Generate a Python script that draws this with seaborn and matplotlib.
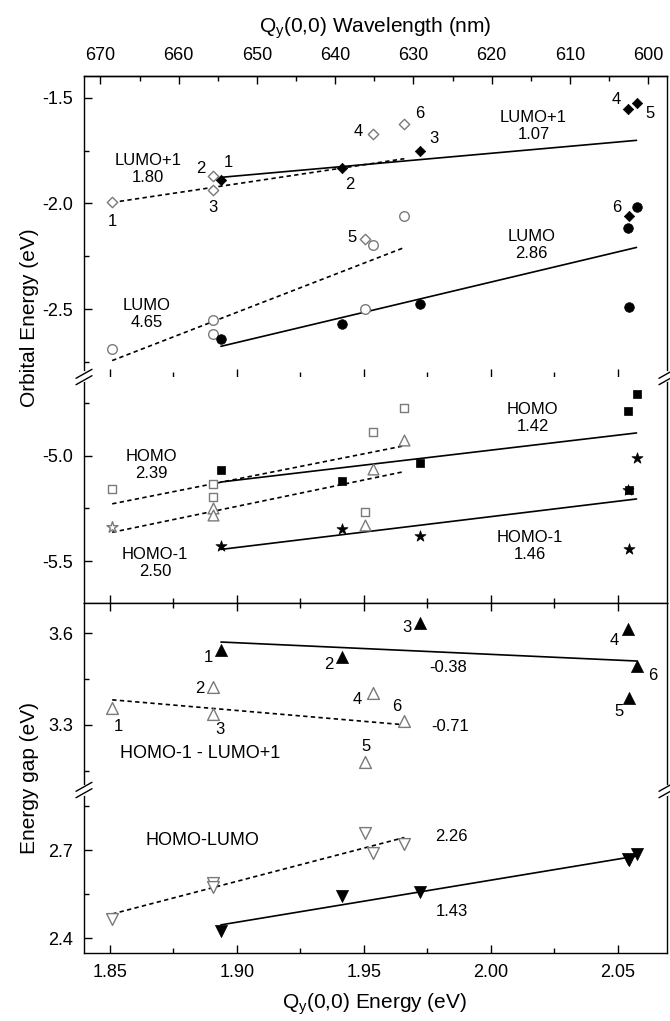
import numpy as np
import matplotlib
matplotlib.use("Agg")
import matplotlib.pyplot as plt
from matplotlib.lines import Line2D
from matplotlib.ticker import MultipleLocator, FormatStrFormatter
import seaborn as sns

# Qy(0,0) transition energies (eV) of the two compound sets
qy_open = [1.8509, 1.8907, 1.8907, 1.9534, 1.9504, 1.9659]
qy_filled = [1.8937, 1.9412, 1.9720, 2.0538, 2.0573, 2.0542]

# frontier orbital energies (eV)
lumo1_open = [-1.992, -1.869, -1.934, -1.672, -2.169, -1.622]
lumo_open = [-2.689, -2.552, -2.618, -2.197, -2.500, -2.059]
homo_open = [-5.159, -5.136, -5.198, -4.887, -5.266, -4.777]
homo1_open = [-5.340, -5.250, -5.280, -5.064, -5.329, -4.925]

lumo1_filled = [-1.890, -1.830, -1.751, -1.551, -1.524, -2.060]
lumo_filled = [-2.639, -2.568, -2.478, -2.118, -2.019, -2.489]
homo_filled = [-5.069, -5.119, -5.037, -4.788, -4.709, -5.163]
homo1_filled = [-5.428, -5.349, -5.381, -5.163, -5.010, -5.444]

# energy gaps (eV)
gap_h1l1_open = [3.355, 3.423, 3.336, 3.406, 3.177, 3.314]
gap_h1l1_filled = [3.545, 3.523, 3.635, 3.613, 3.493, 3.387]
gap_hl_open = [2.465, 2.587, 2.573, 2.690, 2.757, 2.720]
gap_hl_filled = [2.425, 2.544, 2.558, 2.668, 2.686, 2.665]

# slopes of the linear fits (eV per eV)
slope_lumo1 = (1.80, 1.07)
slope_lumo = (4.65, 2.86)
slope_homo = (2.39, 1.42)
slope_homo1 = (2.50, 1.46)
slope_gap_h1l1 = (-0.71, -0.38)
slope_gap_hl = (2.26, 1.43)

# compound numbers written next to the points
tags_orbital_open = ["1", "2", "3", "4", "5", "6"]
tags_orbital_filled = ["1", "2", "3", "4", "5", "6"]
tags_gap_open = ["1", "2", "3", "4", "5", "6"]
tags_gap_filled = ["1", "2", "3", "4", "6", "5"]
homo1_open_markers = ["*", "^", "^", "^", "^", "^"]

# ---------------------------------------------------------------- style
sns.set_theme(style="ticks")
plt.rcParams.update({
    "font.family": ["Liberation Sans", "DejaVu Sans"],
    "mathtext.default": "regular",
    "axes.unicode_minus": False,
    "axes.linewidth": 1.0,
    "axes.edgecolor": "black",
    "xtick.color": "black",
    "ytick.color": "black",
    "text.color": "black",
    "axes.labelcolor": "black",
})

GRAY = "#7a7a7a"
DOT = (0, (2.6, 2.0))
W, H = 670, 1021
XMIN, XMAX = 1.8398, 2.0693

fig = plt.figure(figsize=(W / 100, H / 100), dpi=100)


def frame(top, bottom, left=84, right=667):
    return [left / W, 1 - bottom / H, (right - left) / W, (bottom - top) / H]


ax1 = fig.add_axes(frame(76, 377))
ax2 = fig.add_axes(frame(377, 603))
ax3 = fig.add_axes(frame(603, 790))
ax4 = fig.add_axes(frame(790, 953))

ax1.set_ylim(-2.821, -1.397)
ax2.set_ylim(-5.698, -4.628)
ax3.set_ylim(3.087, 3.699)
ax4.set_ylim(2.350, 2.904)


def style_axis(ax, top, bottom, ystep, xticks_top, xticks_bottom, xlabels=False):
    ax.set_xlim(XMIN, XMAX)
    ax.set_facecolor("white")
    ax.grid(False)
    ax.spines["top"].set_visible(top)
    ax.spines["bottom"].set_visible(bottom)
    ax.spines["right"].set_visible(True)
    ax.tick_params(which="both", direction="in", colors="black", labelsize=13)
    ax.tick_params(which="major", length=6, width=1)
    ax.tick_params(which="minor", length=3.5, width=1)
    ax.tick_params(axis="y", which="both", left=True, right=False, pad=8)
    ax.tick_params(axis="x", which="both", top=xticks_top, bottom=xticks_bottom,
                   labeltop=False, labelbottom=xlabels, pad=8)
    ax.xaxis.set_major_locator(MultipleLocator(0.05))
    ax.xaxis.set_minor_locator(MultipleLocator(0.025))
    ax.xaxis.set_major_formatter(FormatStrFormatter("%.2f"))
    ax.yaxis.set_major_locator(MultipleLocator(ystep))
    ax.yaxis.set_minor_locator(MultipleLocator(ystep / 2))
    ax.yaxis.set_major_formatter(FormatStrFormatter("%.1f"))


style_axis(ax1, True, False, 0.5, False, False)
style_axis(ax2, False, True, 0.5, False, True)
style_axis(ax3, True, False, 0.3, True, False)
style_axis(ax4, False, True, 0.3, False, True, xlabels=True)

# wavelength scale along the top
axt = ax1.twiny()
axt.set_xlim(672.1, 597.6)
for s in ("bottom", "left", "right"):
    axt.spines[s].set_visible(False)
axt.xaxis.set_major_locator(MultipleLocator(10))
axt.xaxis.set_minor_locator(MultipleLocator(5))
axt.xaxis.set_major_formatter(FormatStrFormatter("%d"))
axt.tick_params(axis="x", which="both", direction="in", top=True, bottom=False,
                labeltop=True, labelbottom=False, labelsize=13, pad=9, colors="black")
axt.tick_params(axis="x", which="major", length=6, width=1)
axt.tick_params(axis="x", which="minor", length=3.5, width=1)


# ---------------------------------------------------------------- marks
def points(ax, x, y, marker, filled, size):
    if filled:
        sns.scatterplot(x=x, y=y, ax=ax, marker=marker, s=size, color="black",
                        edgecolor="black", linewidth=0.5, zorder=4, legend=False)
    else:
        sns.scatterplot(x=x, y=y, ax=ax, marker=marker, s=size, color="white",
                        edgecolor=GRAY, linewidth=1.0, zorder=4, legend=False)


def fit_line(ax, x, y, slope, filled):
    x = np.asarray(x, dtype=float)
    y = np.asarray(y, dtype=float)
    xs = np.array([x.min(), x.max()])
    ys = y.mean() + slope * (xs - x.mean())
    sns.lineplot(x=xs, y=ys, ax=ax, color="black", linewidth=1.2,
                 linestyle="-" if filled else DOT, zorder=3, legend=False)


def tag(ax, x, y, tags, offsets):
    for xi, yi, t, (dx, dy) in zip(x, y, tags, offsets):
        ax.annotate(t, (xi, yi), xytext=(dx, dy), textcoords="offset pixels",
                    ha="center", va="center", fontsize=12)


def slope_text(ax, x, y, name, slope, size=12):
    label = f"{slope:.2f}" if name is None else f"{name}\n{slope:.2f}"
    ax.text(x, y, label, ha="center", va="center", fontsize=size, linespacing=1.15)


# LUMO+1 and LUMO
points(ax1, qy_open, lumo1_open, "D", False, 28)
points(ax1, qy_filled, lumo1_filled, "D", True, 28)
points(ax1, qy_open, lumo_open, "o", False, 48)
points(ax1, qy_filled, lumo_filled, "o", True, 48)
fit_line(ax1, qy_open, lumo1_open, slope_lumo1[0], False)
fit_line(ax1, qy_filled, lumo1_filled, slope_lumo1[1], True)
fit_line(ax1, qy_open, lumo_open, slope_lumo[0], False)
fit_line(ax1, qy_filled, lumo_filled, slope_lumo[1], True)

tag(ax1, qy_open, lumo1_open, tags_orbital_open,
    [(0, -20), (-12, 7), (0, -18), (-14, 3), (-13, 2), (15, 10)])
tag(ax1, qy_filled, lumo1_filled, tags_orbital_filled,
    [(7, 18), (8, -17), (14, 12), (-11, 9), (13, -11), (-12, 9)])

slope_text(ax1, 1.8651, -1.838, "LUMO+1", slope_lumo1[0])
slope_text(ax1, 2.0167, -1.632, "LUMO+1", slope_lumo1[1])
slope_text(ax1, 2.0160, -2.197, "LUMO", slope_lumo[1])
slope_text(ax1, 1.8644, -2.522, "LUMO", slope_lumo[0])

# HOMO and HOMO-1
points(ax2, qy_open, homo_open, "s", False, 36)
points(ax2, qy_filled, homo_filled, "s", True, 36)
for m in dict.fromkeys(homo1_open_markers):
    sel = [i for i, mk in enumerate(homo1_open_markers) if mk == m]
    points(ax2, [qy_open[i] for i in sel], [homo1_open[i] for i in sel], m, False,
           70 if m == "*" else 60)
points(ax2, qy_filled, homo1_filled, "*", True, 70)
fit_line(ax2, qy_open, homo_open, slope_homo[0], False)
fit_line(ax2, qy_filled, homo_filled, slope_homo[1], True)
fit_line(ax2, qy_open, homo1_open, slope_homo1[0], False)
fit_line(ax2, qy_filled, homo1_filled, slope_homo1[1], True)

slope_text(ax2, 1.8664, -5.045, "HOMO", slope_homo[0])
slope_text(ax2, 2.0164, -4.822, "HOMO", slope_homo[1])
slope_text(ax2, 1.8677, -5.509, "HOMO-1", slope_homo1[0])
slope_text(ax2, 2.0154, -5.430, "HOMO-1", slope_homo1[1])

# HOMO-1 - LUMO+1 gap
points(ax3, qy_open, gap_h1l1_open, "^", False, 72)
points(ax3, qy_filled, gap_h1l1_filled, "^", True, 76)
fit_line(ax3, qy_open, gap_h1l1_open, slope_gap_h1l1[0], False)
fit_line(ax3, qy_filled, gap_h1l1_filled, slope_gap_h1l1[1], True)
tag(ax3, qy_open, gap_h1l1_open, tags_gap_open,
    [(6, -18), (-13, -1), (7, -16), (-15, -7), (1, 16), (-8, 14)])
tag(ax3, qy_filled, gap_h1l1_filled, tags_gap_filled,
    [(-13, -7), (-13, -8), (-13, -5), (-13, -11), (16, -10), (-10, -13)])
slope_text(ax3, 1.9831, 3.4865, None, slope_gap_h1l1[1])
slope_text(ax3, 1.9839, 3.2944, None, slope_gap_h1l1[0])
ax3.text(1.8857, 3.208, "HOMO-1 - LUMO+1", ha="center", va="center", fontsize=13)

# HOMO-LUMO gap
points(ax4, qy_open, gap_hl_open, "v", False, 72)
points(ax4, qy_filled, gap_hl_filled, "v", True, 76)
fit_line(ax4, qy_open, gap_hl_open, slope_gap_hl[0], False)
fit_line(ax4, qy_filled, gap_hl_filled, slope_gap_hl[1], True)
slope_text(ax4, 1.9845, 2.745, None, slope_gap_hl[0])
slope_text(ax4, 1.9845, 2.4904, None, slope_gap_hl[1])
ax4.text(1.8864, 2.734, "HOMO-LUMO", ha="center", va="center", fontsize=13)

for ax in (ax1, ax2, ax3, ax4):
    ax.set_xlabel("")
    ax.set_ylabel("")
    ax.set_xlim(XMIN, XMAX)


# ---------------------------------------------------------------- axis breaks
def break_mark(x_px, y_px):
    tr = fig.transFigure
    fig.add_artist(Line2D([x_px / W] * 2, [1 - (y_px - 3.5) / H, 1 - (y_px + 3.5) / H],
                          color="white", lw=3.0, transform=tr, zorder=5))
    for dy in (-3.2, 3.2):
        fig.add_artist(Line2D([(x_px - 8) / W, (x_px + 8) / W],
                              [1 - (y_px + dy + 4.5) / H, 1 - (y_px + dy - 4.5) / H],
                              color="black", lw=1.0, transform=tr, zorder=6))


for yb in (377, 790):
    break_mark(84, yb)
    break_mark(667, yb)

# ---------------------------------------------------------------- titles
fig.text(375 / W, 1 - 33 / H, "Q$_y$(0,0) Wavelength (nm)", ha="center",
         va="baseline", fontsize=15)
fig.text(375 / W, 1 - 1009 / H, "Q$_y$(0,0) Energy (eV)", ha="center",
         va="baseline", fontsize=15)
fig.text(30 / W, 1 - 318 / H, "Orbital Energy (eV)", rotation=90, ha="center",
         va="center", fontsize=15)
fig.text(30 / W, 1 - 778 / H, "Energy gap (eV)", rotation=90, ha="center",
         va="center", fontsize=15)

fig.savefig("out.png", dpi=100, facecolor="white")
